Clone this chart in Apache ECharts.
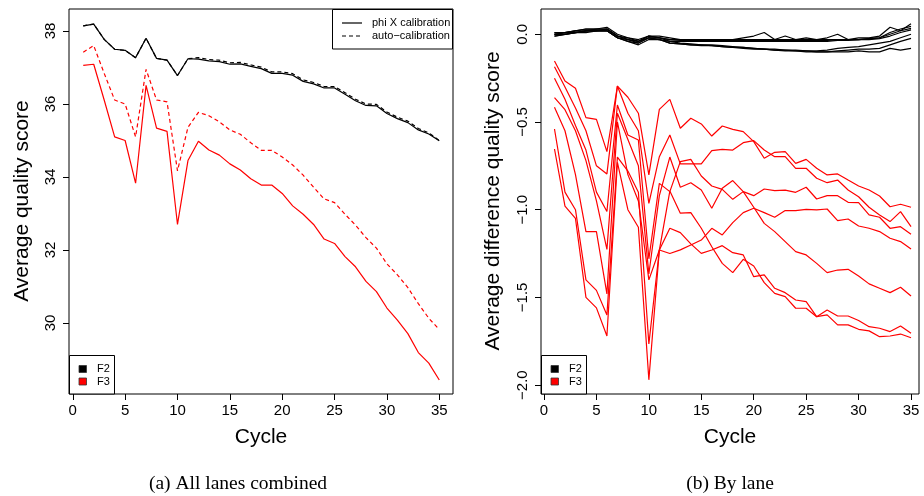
<!DOCTYPE html>
<html><head><meta charset="utf-8">
<script src="https://cdn.jsdelivr.net/npm/echarts@6/dist/echarts.min.js"></script>
<style>html,body{margin:0;padding:0;background:#fff}#c{width:924px;height:496px}</style>
</head><body><div id="c"></div>
<script>
const cycles = [1,2,3,4,5,6,7,8,9,10,11,12,13,14,15,16,17,18,19,20,21,22,23,24,25,26,27,28,29,30,31,32,33,34,35];
const xTicks = [0,5,10,15,20,25,30,35];
const leftYTicks = [30,32,34,36,38];
const rightYTicks = [0,-0.5,-1,-1.5,-2];

// (a) All lanes combined
const f2PhiX = [38.14,38.19,37.77,37.50,37.47,37.27,37.80,37.25,37.20,36.78,37.24,37.23,37.18,37.16,37.09,37.10,37.03,36.97,36.84,36.84,36.79,36.62,36.55,36.44,36.44,36.27,36.09,35.96,35.95,35.74,35.60,35.49,35.29,35.18,34.99];
const f2Auto = [38.14,38.19,37.77,37.50,37.47,37.27,37.80,37.25,37.20,36.78,37.24,37.27,37.22,37.20,37.13,37.14,37.07,37.01,36.88,36.88,36.83,36.66,36.59,36.48,36.48,36.31,36.13,36.00,35.99,35.78,35.64,35.53,35.33,35.21,35.00];
const f3PhiX = [37.06,37.09,36.11,35.10,35.00,33.83,36.51,35.34,35.25,32.70,34.45,34.98,34.74,34.60,34.36,34.19,33.95,33.78,33.78,33.55,33.21,32.98,32.70,32.30,32.18,31.82,31.54,31.14,30.86,30.41,30.08,29.71,29.19,28.90,28.44];
const f3Auto = [37.42,37.60,36.84,36.11,36.00,35.10,36.95,36.11,36.06,34.17,35.36,35.77,35.68,35.51,35.29,35.17,34.94,34.73,34.73,34.55,34.33,34.05,33.72,33.40,33.30,32.98,32.68,32.34,32.05,31.62,31.32,30.97,30.53,30.13,29.82];

// (b) By lane: F2 lanes
const f2Lane1 = [0.01,0.01,0.02,0.03,0.03,0.04,0.00,-0.02,-0.03,-0.01,-0.01,-0.02,-0.03,-0.03,-0.03,-0.03,-0.03,-0.03,-0.02,-0.01,0.01,-0.03,-0.01,-0.03,-0.02,-0.03,-0.02,0.00,-0.03,-0.02,-0.02,-0.01,0.04,0.02,0.06];
const f2Lane2 = [0.00,0.01,0.02,0.02,0.03,0.03,-0.01,-0.02,-0.04,-0.01,-0.02,-0.03,-0.03,-0.03,-0.03,-0.03,-0.03,-0.03,-0.03,-0.03,-0.03,-0.03,-0.03,-0.03,-0.03,-0.03,-0.03,-0.03,-0.03,-0.03,-0.025,-0.02,0.01,0.03,0.045];
const f2Lane3 = [0.00,0.00,0.01,0.02,0.02,0.03,-0.01,-0.03,-0.04,-0.02,-0.02,-0.03,-0.035,-0.035,-0.035,-0.035,-0.035,-0.035,-0.035,-0.035,-0.035,-0.035,-0.035,-0.035,-0.035,-0.035,-0.035,-0.03,-0.03,-0.03,-0.025,-0.02,0.0,0.02,0.034];
const f2Lane4 = [-0.01,0.00,0.01,0.02,0.02,0.02,-0.02,-0.03,-0.05,-0.02,-0.03,-0.04,-0.04,-0.04,-0.04,-0.04,-0.04,-0.04,-0.04,-0.04,-0.04,-0.04,-0.04,-0.04,-0.04,-0.04,-0.04,-0.035,-0.035,-0.03,-0.03,-0.025,-0.01,0.01,0.025];
const f2Lane5 = [0.01,0.01,0.02,0.03,0.03,0.03,-0.01,-0.03,-0.04,-0.01,-0.02,-0.04,-0.05,-0.055,-0.06,-0.06,-0.065,-0.07,-0.075,-0.08,-0.085,-0.085,-0.09,-0.09,-0.095,-0.095,-0.09,-0.08,-0.075,-0.07,-0.06,-0.05,-0.04,-0.02,0.0];
const f2Lane6 = [0.00,0.01,0.01,0.02,0.02,0.02,-0.02,-0.04,-0.05,-0.02,-0.03,-0.05,-0.055,-0.06,-0.06,-0.065,-0.07,-0.075,-0.075,-0.08,-0.085,-0.09,-0.09,-0.095,-0.095,-0.1,-0.1,-0.095,-0.09,-0.085,-0.085,-0.08,-0.06,-0.04,-0.023];
const f2Lane7 = [-0.01,0.00,0.01,0.01,0.02,0.02,-0.02,-0.04,-0.06,-0.03,-0.03,-0.05,-0.055,-0.06,-0.065,-0.065,-0.07,-0.075,-0.08,-0.085,-0.085,-0.09,-0.095,-0.095,-0.1,-0.1,-0.1,-0.1,-0.1,-0.095,-0.1,-0.1,-0.08,-0.09,-0.08];

// (b) By lane: F3 lanes
const f3Lane1 = [-0.152,-0.266,-0.308,-0.475,-0.485,-0.669,-0.295,-0.359,-0.450,-0.802,-0.428,-0.371,-0.536,-0.479,-0.511,-0.580,-0.523,-0.542,-0.555,-0.612,-0.707,-0.673,-0.669,-0.736,-0.713,-0.764,-0.802,-0.796,-0.831,-0.865,-0.888,-0.922,-0.983,-0.969,-0.986];
const f3Lane2 = [-0.185,-0.30,-0.42,-0.55,-0.75,-0.796,-0.295,-0.45,-0.55,-0.964,-0.698,-0.574,-0.739,-0.739,-0.739,-0.663,-0.656,-0.660,-0.618,-0.606,-0.660,-0.698,-0.698,-0.764,-0.764,-0.821,-0.846,-0.831,-0.888,-0.926,-0.986,-1.030,-1.068,-1.011,-1.097];
const f3Lane3 = [-0.251,-0.37,-0.52,-0.66,-0.90,-1.01,-0.403,-0.574,-0.603,-1.28,-0.85,-0.897,-0.726,-0.713,-0.808,-0.865,-0.884,-0.941,-0.897,-0.920,-0.882,-0.891,-0.888,-0.901,-0.872,-0.939,-0.920,-0.920,-0.958,-0.960,-1.030,-1.043,-1.106,-1.097,-1.140];
const f3Lane4 = [-0.361,-0.43,-0.55,-0.72,-0.95,-1.226,-0.45,-0.60,-0.75,-1.366,-0.92,-0.70,-0.872,-0.846,-0.888,-0.992,-0.878,-0.834,-0.897,-0.986,-1.078,-1.125,-1.182,-1.239,-1.258,-1.306,-1.359,-1.344,-1.340,-1.378,-1.423,-1.448,-1.473,-1.442,-1.492];
const f3Lane5 = [-0.416,-0.55,-0.80,-1.125,-1.125,-1.48,-0.50,-0.80,-0.95,-1.40,-1.23,-0.894,-1.020,-1.017,-1.106,-1.211,-1.306,-1.359,-1.283,-1.321,-1.416,-1.477,-1.496,-1.562,-1.562,-1.610,-1.572,-1.606,-1.606,-1.632,-1.667,-1.676,-1.695,-1.663,-1.705];
const f3Lane6 = [-0.540,-0.90,-1.00,-1.40,-1.46,-1.60,-0.70,-0.78,-0.90,-1.766,-1.23,-1.106,-1.131,-1.195,-1.249,-1.230,-1.205,-1.245,-1.258,-1.382,-1.372,-1.448,-1.473,-1.515,-1.524,-1.610,-1.600,-1.657,-1.657,-1.682,-1.691,-1.724,-1.720,-1.709,-1.730];
const f3Lane7 = [-0.654,-0.98,-1.05,-1.50,-1.56,-1.72,-0.73,-1.00,-1.10,-1.97,-1.23,-1.25,-1.229,-1.201,-1.173,-1.106,-1.144,-1.074,-1.017,-0.992,-1.017,-1.043,-1.005,-1.005,-0.998,-1.001,-0.996,-1.062,-1.053,-1.093,-1.106,-1.125,-1.163,-1.182,-1.224];

const f2Lanes = [f2Lane1,f2Lane2,f2Lane3,f2Lane4,f2Lane5,f2Lane6,f2Lane7];
const f3Lanes = [f3Lane1,f3Lane2,f3Lane3,f3Lane4,f3Lane5,f3Lane6,f3Lane7];

const FONT = '"Liberation Sans", Arial, Helvetica, sans-serif';
const SERIF = '"Liberation Serif", "Times New Roman", serif';
const pairs = arr => cycles.map((c, i) => [c, arr[i]]);
const minusFmt = v => Number(v).toFixed(1).replace('-', '\u2212');

function xAxisCfg(gi, min, max) {
  return {
    gridIndex: gi, type: 'value', min: min, max: max, position: 'bottom',
    axisLine: {show: false, onZero: false},
    axisTick: {show: true, customValues: xTicks, length: 6, lineStyle: {color: '#000', width: 1}},
    axisLabel: {show: true, customValues: xTicks, margin: 9, fontSize: 15, color: '#000', fontFamily: FONT},
    splitLine: {show: false}
  };
}
function yAxisCfg(gi, min, max, ticks, fmt) {
  return {
    gridIndex: gi, type: 'value', min: min, max: max, position: 'left',
    axisLine: {show: false, onZero: false},
    axisTick: {show: true, customValues: ticks, length: 6, lineStyle: {color: '#000', width: 1}},
    axisLabel: {show: true, customValues: ticks, rotate: 90, margin: 11, fontSize: 15, color: '#000', fontFamily: FONT, formatter: fmt},
    splitLine: {show: false}
  };
}

const series = [];
function addLine(xi, data, color, dashed) {
  series.push({
    type: 'line', xAxisIndex: xi, yAxisIndex: xi, data: pairs(data),
    symbol: 'none', silent: true, clip: true, z: 2,
    lineStyle: {color: color, width: 1.2, type: dashed ? [4, 3] : 'solid'}
  });
}
addLine(0, f3Auto, '#ff0000', true);
addLine(0, f3PhiX, '#ff0000', false);
addLine(0, f2Auto, '#000000', true);
addLine(0, f2PhiX, '#000000', false);
f3Lanes.forEach(l => addLine(1, l, '#ff0000', false));
f2Lanes.forEach(l => addLine(1, l, '#000000', false));

const G = [];
function txt(x, y, s, size, opts, fam) {
  G.push({type: 'text', x: x, y: y, z: 100,
    style: Object.assign({text: s, fill: '#000', font: size + 'px ' + (fam || FONT), textAlign: 'center', textVerticalAlign: 'middle'}, opts || {})});
}
// axis titles
txt(261, 437, 'Cycle', 21);
txt(730, 437, 'Cycle', 21);
G.push({type: 'text', x: 22, y: 201, rotation: Math.PI / 2, z: 100,
  style: {text: 'Average quality score', fill: '#000', font: '21px ' + FONT, textAlign: 'center', textVerticalAlign: 'middle'}});
G.push({type: 'text', x: 493, y: 201, rotation: Math.PI / 2, z: 100,
  style: {text: 'Average difference quality score', fill: '#000', font: '21px ' + FONT, textAlign: 'center', textVerticalAlign: 'middle'}});
// captions
txt(238, 484, '(a) All lanes combined', 19.5, null, SERIF);
txt(730, 484, '(b) By lane', 19.5, null, SERIF);

// calibration legend (panel a)
G.push({type: 'rect', z: 100, shape: {x: 332.5, y: 9.5, width: 120, height: 39.5}, style: {fill: '#fff', stroke: '#000', lineWidth: 1}});
G.push({type: 'line', z: 101, shape: {x1: 342, y1: 23, x2: 362, y2: 23}, style: {stroke: '#000', lineWidth: 1.2}});
G.push({type: 'line', z: 101, shape: {x1: 342, y1: 36, x2: 362, y2: 36}, style: {stroke: '#000', lineWidth: 1.2, lineDash: [4, 3]}});
txt(372, 23, 'phi X calibration', 11, {textAlign: 'left'});
txt(372, 36, 'auto\u2212calibration', 11, {textAlign: 'left'});

// F2/F3 legends
function fLegend(x0) {
  G.push({type: 'rect', z: 100, shape: {x: x0 + 0.5, y: 355.5, width: 45, height: 38.5}, style: {fill: '#fff', stroke: '#000', lineWidth: 1}});
  G.push({type: 'rect', z: 101, shape: {x: x0 + 10, y: 365.5, width: 7.5, height: 7}, style: {fill: '#000', stroke: '#333', lineWidth: 0.8}});
  G.push({type: 'rect', z: 101, shape: {x: x0 + 10, y: 378, width: 7.5, height: 7}, style: {fill: '#ff0000', stroke: '#333', lineWidth: 0.8}});
  txt(x0 + 28, 369, 'F2', 11, {textAlign: 'left'});
  txt(x0 + 28, 382, 'F3', 11, {textAlign: 'left'});
}
fLegend(69);
fLegend(541);

const chart = echarts.init(document.getElementById('c'), null, {renderer: 'canvas'});
chart.setOption({
  animation: false,
  backgroundColor: '#fff',
  grid: [
    {left: 69, top: 9, width: 384, height: 385, show: true, borderColor: '#000', borderWidth: 1, backgroundColor: 'transparent'},
    {left: 541, top: 9, width: 378, height: 385, show: true, borderColor: '#000', borderWidth: 1, backgroundColor: 'transparent'}
  ],
  xAxis: [xAxisCfg(0, -0.36, 36.31), xAxisCfg(1, -0.286, 35.76)],
  yAxis: [
    yAxisCfg(0, 28.055, 38.603, leftYTicks, v => String(v)),
    yAxisCfg(1, -2.0508, 0.1442, rightYTicks, minusFmt)
  ],
  series: series,
  graphic: G
});
</script>
</body></html>
